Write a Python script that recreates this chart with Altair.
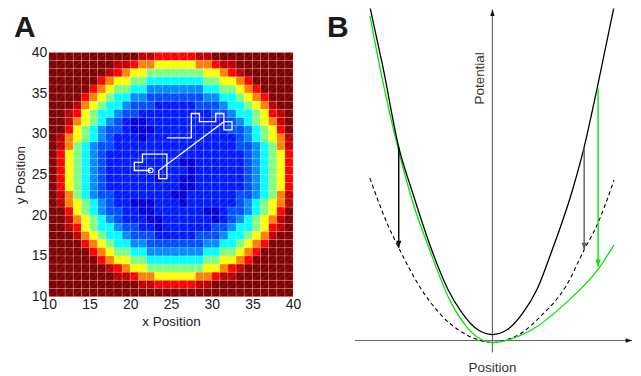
import altair as alt
import pandas as pd

FONT = "Liberation Sans"

# ---------------- Panel A: potential map (rows from y=39 at top to y=10 at bottom, cols x=10..39)
x_ticks = [10, 15, 20, 25, 30, 35, 40]
y_ticks = [10, 15, 20, 25, 30, 35, 40]
grid_rows = [
    "88888888888rr77777rr8888888888",
    "88888888rr76655555667rr8888888",
    "8888888r765544444445567r888888",
    "888888765544333333344556788888",
    "888887654433222222233445678888",
    "888876543322bbbbbbb22334567888",
    "888r654332bbb11111bbb233456r88",
    "88r754332bb111111111bb233457r8",
    "88r65432b1001111111111b23456r8",
    "8875432bb1000111111111bb234578",
    "8r65432b111011111111111b23456r",
    "8r6432bb111111111111111bb2346r",
    "875432b11111111111111111b23457",
    "875432b11111111100111111b23457",
    "875432b11111111110111111b23457",
    "875432b11111101100111111b23457",
    "875432b11111111100111111b23457",
    "8r6432bb111111100111111bb2346r",
    "8r65432b110001110111111b23456r",
    "8875432bb1100111111001bb234578",
    "88r65432b1110011111101b23456r8",
    "88r754332bb110111111bb233457r8",
    "888r654332bbb11111bbb233456r88",
    "888876543322bbbbbbb22334567888",
    "888887654433222222233445678888",
    "888888765544333333344556788888",
    "8888888r765544444445567r888888",
    "88888888rr76655555667rr8888888",
    "88888888888rr77777rr8888888888",
    "888888888888888888888888888888",
]
level_values = {"0": 0.7, "1": 1.2, "b": 1.6, "2": 2.1, "3": 3.0, "4": 4.0,
                "5": 5.0, "6": 6.0, "7": 7.0, "r": 7.5, "8": 8.0}
assert all(len(r) == 30 for r in grid_rows)

walk_x = [22.5, 20.5, 20.5, 21.5, 21.5, 24.5, 24.5, 23.5, 23.5, 31.5, 32.5,
          32.5, 31.5, 31.5, 30.5, 30.5, 28.5, 28.5, 27.5, 27.5, 24.5]
walk_y = [25.5, 25.5, 26.5, 26.5, 27.5, 27.5, 24.5, 24.5, 25.5, 31.5, 31.5,
          30.5, 30.5, 32.5, 32.5, 31.5, 31.5, 32.5, 32.5, 29.5, 29.5]

# ---------------- Panel B: potential curves
black_x = [-12.3, -11.0, -9.4, -8.0, -6.1, -4.5, -3.0, -1.5, 0.0, 1.5, 3.0, 4.5, 6.0, 8.0, 9.2, 10.5, 12.2]
black_y = [33.5, 27.5, 19.4, 14.8, 9.1, 5.2, 2.7, 1.1, 0.6, 1.1, 2.7, 5.2, 9.1, 15.0, 19.4, 25.3, 33.5]
green_x = [-12.3, -11.0, -9.5, -8.0, -6.3, -4.3, -2.6, -1.3, 0.0, 1.7, 4.0, 7.4, 10.7, 12.2]
green_y = [32.6, 26.0, 19.4, 13.9, 9.1, 4.1, 1.4, 0.2, -0.2, 0.1, 1.1, 3.8, 7.3, 9.6]
dash_x = [-12.3, -10.5, -9.4, -7.3, -5.0, -3.0, -1.5, 0.0, 1.5, 3.0, 4.7, 7.4, 9.2, 10.5, 12.2]
dash_y = [16.3, 11.6, 9.3, 5.4, 2.4, 0.8, 0.1, -0.2, 0.1, 0.8, 2.3, 5.5, 9.1, 11.6, 16.1]
arrow_names = ["left", "right", "shift"]
arrow_x = [-9.4, 9.2, 10.6]
arrow_top = [19.4, 19.4, 25.3]
arrow_tip = [9.3, 9.1, 7.4]
h_axis_x = [-13.8, 14.0]
v_axis_y = [-1.2, 33.2]
b_labels = ["Potential", "Position"]
panel_labels = ["A", "B"]

# ---------------- build tables
cells = []
for r, row in enumerate(grid_rows):
    for c, ch in enumerate(row):
        cells.append({"x": 10 + c, "x2": 11 + c, "y": 39 - r, "y2": 40 - r,
                      "v": level_values[ch]})
cells = pd.DataFrame(cells)
walk = pd.DataFrame({"x": walk_x, "y": walk_y, "step": list(range(len(walk_x)))})

jet = ["#00007f", "#0000ff", "#007fff", "#00ffff", "#7fff7f",
       "#ffff00", "#ff7f00", "#ff0000", "#7f0000"]
cscale = alt.Scale(domain=[0, 1, 2, 3, 4, 5, 6, 7, 8], range=jet, interpolate="rgb")

xa = alt.Scale(domain=[10, 40], nice=False, zero=False)
ya = alt.Scale(domain=[10, 40], range=[289, 44], nice=False, zero=False)

common_axis = dict(values=x_ticks, domain=False, ticks=False, grid=False,
                   labelFlush=False, labelOverlap=False, labelBound=False,
                   labelFontSize=14, labelFont=FONT, labelColor="#1a1a1a",
                   titleFontSize=13.5, titleFont=FONT, titleColor="#222",
                   titleFontWeight="normal")
x_axis = alt.Axis(title="x Position", labelPadding=1, titlePadding=3, **common_axis)
y_axis = alt.Axis(title="y Position", labelPadding=2, titlePadding=4, **common_axis)

heat = alt.Chart(cells).mark_rect(stroke="white", strokeOpacity=0.28, strokeWidth=0.6).encode(
    x=alt.X("x:Q", scale=xa, axis=x_axis),
    x2="x2:Q",
    y=alt.Y("y:Q", scale=ya, axis=y_axis),
    y2="y2:Q",
    color=alt.Color("v:Q", scale=cscale, legend=None),
)
diag = alt.Chart(cells).mark_rule(color="white", opacity=0.25, strokeWidth=0.5).encode(
    x=alt.X("x:Q", scale=xa), y=alt.Y("y:Q", scale=ya), x2="x2:Q", y2="y2:Q"
)
path = alt.Chart(walk).mark_line(color="white", strokeWidth=1.3).encode(
    x=alt.X("x:Q", scale=xa), y=alt.Y("y:Q", scale=ya), order="step:Q"
)
start = alt.Chart(walk.iloc[:1]).mark_point(shape="circle", size=22, color="white",
                                             filled=False, strokeWidth=1.1, opacity=1).encode(
    x=alt.X("x:Q", scale=xa), y=alt.Y("y:Q", scale=ya)
)
alabel = alt.Chart(pd.DataFrame({"t": [panel_labels[0]]})).mark_text(
    font=FONT, fontSize=30, fontWeight="bold", color="#1a1a1a", align="left", baseline="alphabetic"
).encode(x=alt.value(-35), y=alt.value(29), text="t:N")

panel_a = alt.layer(heat, diag, path, start, alabel).properties(width=245, height=289)

# ---------------- Panel B
xs = alt.Scale(domain=[-15.3, 14.0], nice=False, zero=False)
ys = alt.Scale(domain=[-1.5, 33.3], nice=False, zero=False)


def XB(f):
    return alt.X(f, scale=xs, axis=None)


def YB(f):
    return alt.Y(f, scale=ys, axis=None)


blk = pd.DataFrame({"x": black_x, "y": black_y})
grn = pd.DataFrame({"x": green_x, "y": green_y})
dsh = pd.DataFrame({"x": dash_x, "y": dash_y})
arr = pd.DataFrame({"name": arrow_names, "x": arrow_x, "top": arrow_top, "tip": arrow_tip})
hax = pd.DataFrame({"x1": [h_axis_x[0]], "x2": [h_axis_x[1]], "y": [0.0]})
vax = pd.DataFrame({"x": [0.0], "y1": [v_axis_y[0]], "y2": [v_axis_y[1]]})

DOWN = "M0,0L-1.3,-3.6L1.3,-3.6Z"
UP = "M0,0L-1.1,3.2L1.1,3.2Z"
RIGHT = "M0,0L-3.2,-1.1L-3.2,1.1Z"

axis_color = "#666666"
h_line = alt.Chart(hax).mark_rule(color=axis_color, strokeWidth=1.2).encode(
    x=XB("x1:Q"), x2="x2:Q", y=YB("y:Q"))
v_line = alt.Chart(vax).mark_rule(color=axis_color, strokeWidth=1.2).encode(
    x=XB("x:Q"), y=YB("y1:Q"), y2="y2:Q")
h_head = alt.Chart(hax).mark_point(shape=RIGHT, size=16, filled=True, color="#111", opacity=1).encode(
    x=XB("x2:Q"), y=YB("y:Q"))
v_head = alt.Chart(vax).mark_point(shape=UP, size=16, filled=True, color="#111", opacity=1).encode(
    x=XB("x:Q"), y=YB("y2:Q"))

dash_line = alt.Chart(dsh).mark_line(color="black", strokeWidth=1.1, strokeDash=[4, 3],
                                     interpolate="monotone", clip=True).encode(x=XB("x:Q"), y=YB("y:Q"))
green_line = alt.Chart(grn).mark_line(color="#00e600", strokeWidth=1.3,
                                      interpolate="monotone", clip=True).encode(x=XB("x:Q"), y=YB("y:Q"))
black_line = alt.Chart(blk).mark_line(color="black", strokeWidth=1.3,
                                      interpolate="monotone", clip=True).encode(x=XB("x:Q"), y=YB("y:Q"))

arrow_colors = {"left": "#000000", "right": "#5e5e5e", "shift": "#00e600"}
arrow_layers = []
for nm in arrow_names:
    base = alt.Chart(arr).transform_filter(alt.datum.name == nm)
    arrow_layers.append(base.mark_rule(color=arrow_colors[nm], strokeWidth=1.4).encode(
        x=XB("x:Q"), y=YB("top:Q"), y2="tip:Q"))
    arrow_layers.append(base.mark_point(shape=DOWN, size=16, filled=True, opacity=1,
                                        color=arrow_colors[nm]).encode(x=XB("x:Q"), y=YB("tip:Q")))

pot_label = alt.Chart(pd.DataFrame({"t": [b_labels[0]]})).mark_text(
    font=FONT, fontSize=13.5, color="#333", angle=270, align="center", baseline="middle"
).encode(x=alt.value(140.5), y=alt.value(70), text="t:N")
pos_label = alt.Chart(pd.DataFrame({"t": [b_labels[1]]})).mark_text(
    font=FONT, fontSize=13.5, color="#333", align="center", baseline="alphabetic"
).encode(x=alt.value(153), y=alt.value(364.5), text="t:N")
blabel = alt.Chart(pd.DataFrame({"t": [panel_labels[1]]})).mark_text(
    font=FONT, fontSize=30, fontWeight="bold", color="#1a1a1a", align="left", baseline="alphabetic"
).encode(x=alt.value(-13), y=alt.value(29), text="t:N")

panel_b = alt.layer(h_line, v_line, h_head, v_head, dash_line, green_line, black_line,
                    *arrow_layers, pot_label, pos_label, blabel).properties(width=293, height=348)

chart = alt.hconcat(panel_a, panel_b, spacing=47, bounds="flush",
                    padding={"left": 5, "top": 0, "right": 0, "bottom": 0}
                    ).configure(font=FONT).configure_view(stroke="transparent", strokeWidth=0)

chart.save("out.html", embed_options={"renderer": "svg", "actions": False})
